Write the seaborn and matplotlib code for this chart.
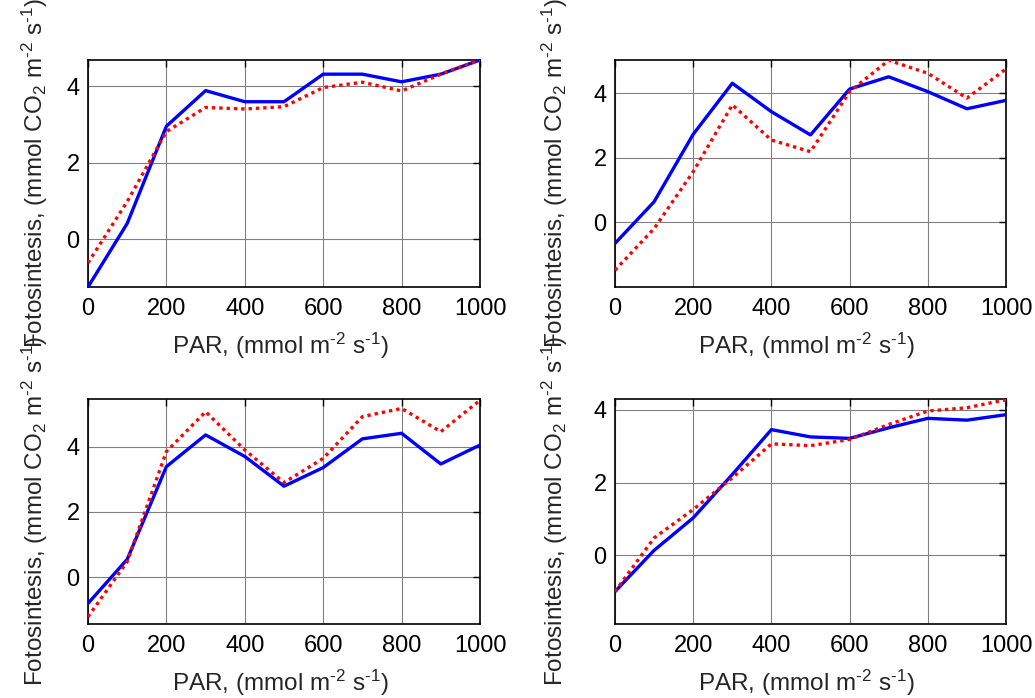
import numpy as np
import pandas as pd
import matplotlib
matplotlib.use("Agg")
import matplotlib.pyplot as plt
import seaborn as sns

# ---- data ----
par = [0, 100, 200, 300, 400, 500, 600, 700, 800, 900, 1000]

tl_blue = [-1.25, 0.41, 2.95, 3.88, 3.59, 3.59, 4.31, 4.31, 4.11, 4.31, 4.68]
tl_red = [-0.62, 0.98, 2.81, 3.44, 3.40, 3.46, 3.96, 4.10, 3.87, 4.31, 4.68]

tr_blue = [-0.65, 0.64, 2.73, 4.31, 3.43, 2.71, 4.13, 4.51, 4.05, 3.52, 3.78]
tr_red = [-1.48, -0.19, 1.57, 3.64, 2.55, 2.19, 4.05, 5.02, 4.62, 3.85, 4.75]

bl_blue = [-0.80, 0.55, 3.39, 4.36, 3.70, 2.79, 3.36, 4.24, 4.41, 3.47, 4.05]
bl_red = [-1.21, 0.48, 3.85, 5.07, 3.90, 2.90, 3.64, 4.92, 5.17, 4.46, 5.42]

br_blue = [-0.99, 0.14, 1.03, 2.22, 3.45, 3.25, 3.21, 3.50, 3.76, 3.71, 3.86]
br_red = [-0.99, 0.48, 1.26, 2.13, 3.06, 3.01, 3.18, 3.59, 3.96, 4.05, 4.27]

ylims = [(-1.25, 4.68), (-2.0, 5.03), (-1.43, 5.46), (-1.88, 4.29)]
xticks = [0, 200, 400, 600, 800, 1000]
yticks = [0, 2, 4]

xlabel = "PAR, (mmol m$^{\u20102}$ s$^{\u20101}$)"
ylabel = "Fotosintesis, (mmol CO$_{2}$ m$^{\u20102}$ s$^{\u20101}$)"

# ---- style ----
sns.set_theme(style="white")
plt.rcParams["font.family"] = ["Liberation Sans", "DejaVu Sans"]
plt.rcParams["mathtext.fontset"] = "custom"
plt.rcParams["mathtext.rm"] = "Liberation Sans"
plt.rcParams["mathtext.sf"] = "Liberation Sans"
plt.rcParams["mathtext.it"] = "Liberation Sans"
plt.rcParams["mathtext.bf"] = "Liberation Sans"
plt.rcParams["mathtext.default"] = "regular"

FS = 17
LFS = 17.5
W, H = 1035, 698
fig = plt.figure(figsize=(W / 100, H / 100), dpi=100)

def px_rect(l, t, r, b):
    return [l / W, 1 - b / H, (r - l) / W, (b - t) / H]

rects = [
    px_rect(88, 60, 480, 287),
    px_rect(615, 60, 1006, 287),
    px_rect(88, 399, 480, 624),
    px_rect(615, 399, 1006, 624),
]
series = [(tl_blue, tl_red), (tr_blue, tr_red), (bl_blue, bl_red), (br_blue, br_red)]

for i, (rect, (blue, red), yl) in enumerate(zip(rects, series, ylims)):
    ax = fig.add_axes(rect)
    df = pd.DataFrame({"PAR": par, "blue": blue, "red": red})
    sns.lineplot(data=df, x="PAR", y="blue", ax=ax, color="#0000ff", linewidth=2.4,
                 linestyle="-", zorder=3)
    sns.lineplot(data=df, x="PAR", y="red", ax=ax, color="#ff0000", linewidth=2.4,
                 linestyle=(0, (1, 1.2)), zorder=4)
    ax.set_xlim(0, 1000)
    ax.set_ylim(*yl)
    ax.set_xticks(xticks)
    ax.set_yticks(yticks)
    ax.grid(True, color="#808080", linewidth=0.8, linestyle="-")
    ax.set_axisbelow(True)
    for s in ax.spines.values():
        s.set_color("black")
        s.set_linewidth(1.2)
    ax.tick_params(axis="both", which="both", direction="in", top=True, right=True,
                   length=5, width=1, labelsize=FS, colors="black", pad=6)
    ax.tick_params(axis="x", pad=8)
    ax.set_xlabel(xlabel, fontsize=LFS)
    ax.set_ylabel(ylabel, fontsize=LFS)
    left_px = rect[0] * W
    width_px = rect[2] * W
    height_px = rect[3] * H
    lab_x = 50 if i % 2 == 0 else 570
    ax.yaxis.set_label_coords((lab_x - left_px) / width_px, 0.5)
    ax.xaxis.set_label_coords(0.49, -44 / height_px)

fig.savefig("out.png", dpi=100)
